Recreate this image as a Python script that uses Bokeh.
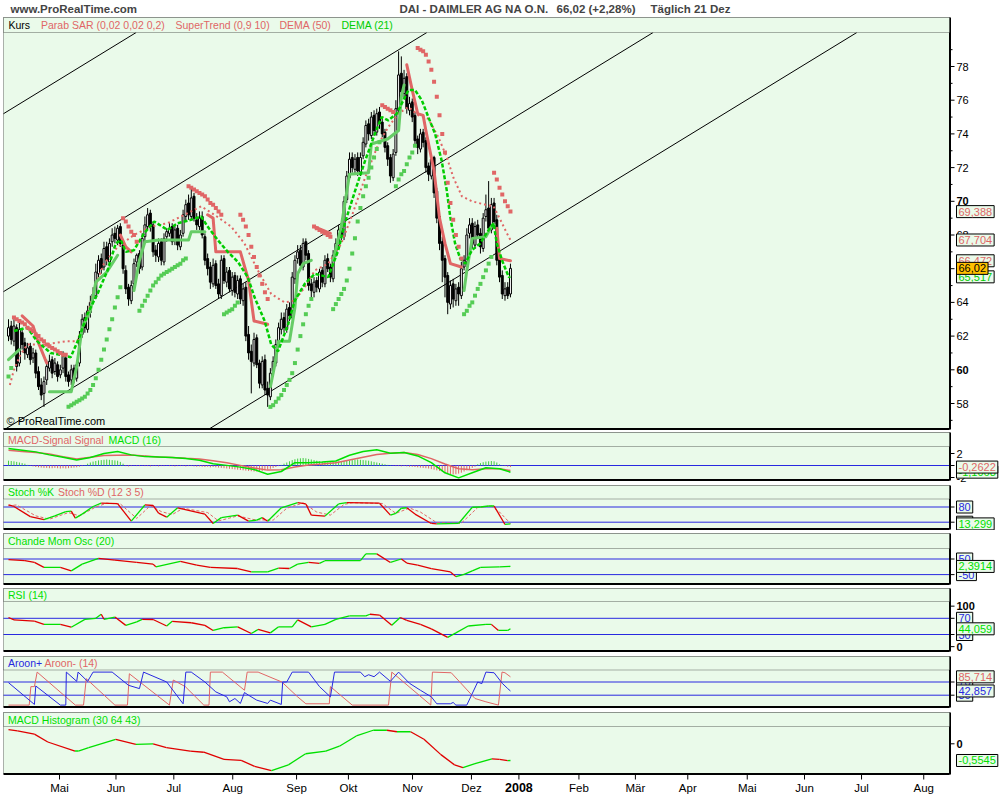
import numpy as np
from bokeh.plotting import figure
from bokeh.layouts import column
from bokeh.models import Range1d, BoxAnnotation, Label
from bokeh.core.properties import value
from bokeh.embed import file_html
from bokeh.resources import INLINE

# ======================= DATA =======================
candle_open = [
    62.0, 62.6, 61.7, 62.5, 60.4, 62.2, 61.6, 60.9, 61.4, 60.7,
    61.0, 59.9, 59.1, 58.6, 59.4, 60.1, 60.6, 59.9, 60.3, 59.7,
    60.1, 60.7, 59.7, 59.4, 60.1, 59.5, 60.4, 62.1, 63.1, 62.4,
    63.4, 64.2, 64.4, 65.7, 66.6, 66.1, 67.3, 66.4, 67.6, 68.1,
    67.7, 68.5, 67.4, 65.9, 64.9, 64.1, 65.1, 66.4, 66.9, 66.1,
    67.9, 68.5, 69.3, 68.6, 67.1, 66.7, 67.6, 66.4, 67.9, 68.1,
    68.5, 67.7, 68.4, 67.3, 68.1, 69.1, 69.9, 69.1, 70.3, 68.9,
    68.5, 69.1, 67.9, 66.6, 66.1, 65.1, 66.3, 65.1, 64.4, 66.6,
    65.2, 65.9, 64.7, 65.6, 64.5, 65.4, 64.1, 64.9, 62.1, 61.1,
    60.4, 61.9, 60.4, 59.1, 60.6, 58.9, 58.4, 59.9, 60.4, 61.6,
    62.4, 63.1, 62.4, 63.7, 63.1, 65.4, 66.6, 67.1, 66.1, 67.6,
    66.9, 65.1, 64.6, 65.3, 64.8, 65.9, 65.1, 66.6, 66.1, 65.4,
    66.9, 67.4, 68.4, 67.9, 70.1, 71.4, 72.6, 71.9, 72.6, 71.7,
    72.7, 73.4, 74.6, 73.9, 75.1, 74.1, 75.3, 74.7, 74.1, 73.3,
    72.6, 71.4, 72.9, 75.4, 77.6, 76.4, 77.4, 75.4, 75.9, 75.1,
    73.7, 73.1, 74.1, 73.6, 72.1, 71.5, 72.6, 70.6, 69.1, 67.6,
    66.6, 65.6, 63.9, 65.1, 64.1, 64.9, 64.4, 66.1, 66.4, 68.1,
    68.7, 67.4, 68.6, 68.1, 67.2, 69.1, 69.6, 68.3, 69.9, 68.9,
    66.6, 65.6, 64.4, 64.9, 64.5]
candle_high = [
    63.0, 62.9, 63.0, 62.7, 62.8, 62.5, 61.9, 61.6, 61.6, 61.3,
    61.2, 60.2, 59.5, 59.6, 60.6, 60.9, 60.8, 60.7, 60.5, 60.3,
    61.1, 60.9, 59.9, 60.3, 60.3, 60.5, 62.3, 63.3, 63.4, 63.8,
    64.4, 64.9, 66.3, 66.8, 66.9, 67.6, 67.6, 67.8, 68.4, 68.5,
    68.6, 68.7, 67.6, 66.2, 65.1, 65.3, 66.6, 66.9, 67.1, 68.1,
    69.1, 69.6, 69.5, 68.8, 67.4, 67.8, 67.8, 68.1, 68.4, 68.7,
    68.7, 68.6, 68.6, 68.3, 69.5, 70.1, 70.4, 70.8, 70.5, 69.3,
    69.4, 69.4, 68.1, 66.9, 66.4, 66.6, 66.5, 65.4, 66.8, 66.8,
    66.1, 66.1, 65.8, 65.8, 65.6, 65.6, 65.1, 65.2, 62.6, 61.5,
    62.2, 62.1, 60.6, 60.8, 60.9, 59.3, 60.1, 60.8, 61.8, 62.8,
    63.4, 63.4, 63.9, 64.0, 65.8, 66.8, 67.4, 67.4, 67.8, 67.8,
    67.1, 65.4, 65.5, 65.5, 66.0, 66.1, 66.8, 66.9, 66.3, 67.1,
    67.8, 68.6, 68.7, 70.3, 71.8, 72.9, 72.9, 72.8, 72.9, 72.9,
    73.8, 74.8, 74.9, 75.3, 75.4, 75.5, 75.6, 74.9, 74.3, 73.5,
    72.8, 73.1, 76.0, 78.9, 78.6, 77.8, 77.6, 76.2, 76.1, 75.3,
    73.9, 74.3, 74.3, 73.8, 72.3, 72.8, 72.7, 70.8, 69.4, 67.9,
    66.8, 65.8, 65.3, 65.4, 65.1, 65.2, 66.4, 66.8, 68.4, 69.0,
    69.0, 68.8, 68.9, 68.4, 69.3, 70.4, 71.2, 70.2, 70.2, 69.2,
    66.8, 65.9, 65.2, 65.2, 66.3]
candle_low = [
    61.7, 61.5, 61.4, 59.9, 60.2, 61.2, 60.6, 60.7, 60.3, 60.4,
    59.5, 58.8, 58.2, 57.8, 59.1, 59.9, 59.5, 59.7, 59.3, 59.5,
    59.8, 59.3, 59.0, 59.1, 59.2, 59.3, 60.2, 61.9, 62.2, 62.2,
    63.1, 63.9, 64.2, 65.5, 65.7, 65.9, 66.2, 66.2, 67.3, 67.5,
    67.4, 67.3, 65.7, 64.5, 63.8, 63.9, 64.9, 66.1, 65.7, 65.9,
    67.5, 68.3, 68.2, 66.7, 66.4, 66.4, 66.2, 66.2, 67.6, 67.9,
    67.4, 67.4, 67.1, 67.1, 67.9, 68.8, 68.9, 68.9, 68.8, 68.3,
    68.3, 67.8, 66.2, 65.6, 64.8, 64.9, 64.8, 64.2, 64.2, 65.1,
    64.9, 64.6, 64.4, 64.3, 64.2, 63.9, 63.8, 61.7, 60.6, 58.6,
    60.2, 60.1, 58.9, 58.9, 58.5, 57.8, 58.2, 59.6, 60.2, 61.3,
    62.1, 62.2, 62.2, 62.9, 63.0, 65.1, 66.3, 65.9, 65.9, 66.5,
    64.7, 64.2, 64.3, 64.6, 64.6, 64.9, 64.9, 65.8, 65.2, 65.2,
    66.7, 67.2, 67.7, 67.7, 69.9, 71.2, 71.7, 71.6, 71.5, 71.5,
    72.5, 73.2, 73.6, 73.7, 73.9, 73.9, 74.3, 73.8, 72.9, 72.1,
    71.1, 71.2, 72.7, 75.2, 76.2, 76.1, 75.2, 75.1, 74.7, 73.3,
    72.8, 72.9, 73.2, 71.7, 71.2, 71.3, 70.2, 68.7, 67.1, 65.2,
    64.3, 63.3, 63.6, 63.7, 63.8, 63.8, 64.2, 65.9, 66.2, 67.8,
    67.2, 67.2, 67.8, 66.9, 67.0, 68.8, 68.2, 68.1, 68.6, 66.2,
    65.2, 64.2, 64.1, 64.2, 64.3]
candle_close = [
    62.5, 61.8, 62.6, 60.2, 62.4, 61.5, 61.0, 61.3, 60.6, 61.0,
    59.8, 59.0, 58.5, 59.3, 60.2, 60.5, 59.8, 60.4, 59.6, 60.0,
    60.8, 59.6, 59.3, 60.0, 59.4, 60.3, 62.0, 63.0, 62.5, 63.5,
    64.0, 64.5, 65.8, 66.5, 66.0, 67.2, 66.5, 67.5, 68.0, 67.8,
    68.4, 67.5, 66.0, 64.8, 64.2, 65.0, 66.3, 66.8, 66.0, 67.8,
    68.6, 69.2, 68.5, 67.0, 66.8, 67.5, 66.5, 67.8, 68.2, 68.4,
    67.6, 68.3, 67.4, 68.0, 69.2, 69.8, 69.2, 70.2, 69.0, 68.6,
    69.0, 68.0, 66.5, 66.0, 65.2, 66.2, 65.0, 64.5, 66.5, 65.3,
    65.8, 64.8, 65.5, 64.6, 65.3, 64.2, 64.8, 62.0, 61.0, 60.5,
    61.8, 60.3, 59.2, 60.5, 58.8, 58.5, 59.8, 60.5, 61.5, 62.5,
    63.0, 62.5, 63.6, 63.2, 65.5, 66.5, 67.0, 66.2, 67.5, 66.8,
    65.0, 64.7, 65.2, 64.9, 65.8, 65.2, 66.5, 66.0, 65.5, 66.8,
    67.5, 68.3, 68.0, 70.0, 71.5, 72.5, 72.0, 72.5, 71.8, 72.6,
    73.5, 74.5, 74.0, 75.0, 74.2, 75.2, 74.6, 74.0, 73.2, 72.5,
    71.5, 72.8, 75.5, 77.5, 76.5, 77.3, 75.5, 75.8, 75.0, 73.6,
    73.2, 74.0, 73.5, 72.0, 71.6, 72.5, 70.5, 69.0, 67.5, 66.5,
    65.5, 64.0, 65.0, 64.2, 64.8, 64.5, 66.0, 66.5, 68.0, 68.6,
    67.5, 68.5, 68.0, 67.3, 69.0, 69.5, 68.4, 69.8, 68.8, 66.5,
    65.5, 64.5, 64.8, 64.4, 66.02]

# Parabolic SAR, one value per candle
sar_values = [
    59.6, 60.1,
    63.1, 63.0, 62.9, 62.8, 62.7, 62.5, 62.4, 62.3, 62.1, 62.0,
    61.8, 61.7, 61.5, 61.4, 61.3, 61.2, 61.1, 61.0, 60.9, 60.9,
    57.8, 57.9, 58.0, 58.1, 58.2, 58.3, 58.4, 58.6, 58.8, 59.1,
    59.5, 60.0, 60.6, 61.2, 61.8, 62.4, 63.0, 63.7, 64.3, 64.9,
    69.0, 68.8, 68.5, 68.2, 68.0, 67.6,
    63.5, 63.8, 64.1, 64.4, 64.7, 65.0, 65.2, 65.4, 65.6, 65.7,
    65.8, 65.9, 66.0, 66.1, 66.2, 66.3, 66.5, 66.6,
    70.9, 70.8, 70.7, 70.6, 70.5, 70.4, 70.3, 70.1, 69.9, 69.8, 69.6, 69.4, 69.2,
    63.3, 63.4, 63.5, 63.6, 63.8, 64.0,
    69.2, 68.9, 68.5, 68.0, 67.3, 66.7, 66.1, 65.6, 65.1, 64.6, 64.2,
    57.8, 57.9, 58.1, 58.3, 58.5, 58.8, 59.1, 59.4, 59.8, 60.4,
    61.2, 62.0, 62.7, 63.3, 63.8, 64.2,
    68.5, 68.4, 68.3, 68.2, 68.1, 68.0, 67.9,
    63.6, 63.9, 64.2, 64.5, 64.8, 65.3, 66.0, 66.9, 67.8, 68.8,
    69.6, 70.3, 70.9, 71.4, 72.0, 72.6, 73.1, 73.5,
    75.7, 75.6, 75.5, 75.4, 75.3,
    70.9, 71.3, 71.6, 71.8, 72.2, 72.6, 72.9, 73.3,
    79.1, 79.0, 78.9, 78.7, 78.3, 77.8, 77.1, 76.2, 75.1, 74.0,
    72.9, 71.1, 69.9, 68.9, 68.0, 67.3, 66.6,
    63.3, 63.5, 63.8, 64.0, 64.4, 64.8, 65.1, 65.5, 65.9, 66.3, 66.7,
    71.7, 71.3, 70.8, 70.4, 70.0, 69.7, 69.388]

# SuperTrend (0,9 10): knots and side (1 = below price / green, -1 = above / red)
st_idx = [0, 4, 5, 9, 11, 14, 15, 23, 25, 27, 30, 32, 36, 40, 41, 43, 45,
          46, 48, 50, 55, 66, 67, 72, 73, 75, 76, 85, 88, 90, 95,
          96, 97.5, 99, 103, 105, 106, 108, 111, 112, 118,
          119, 122, 125, 132, 133, 139, 143, 144, 145,
          146, 148, 150, 152, 153, 156, 158, 160, 162, 166,
          167, 168, 170, 175, 177, 178, 179, 180, 184]
st_val = [60.6, 61.2, 63.2, 62.6, 61.6, 60.4, 58.7, 58.7, 60.2, 62.5, 63.5, 65.2, 65.8, 66.8, 68.0, 67.3, 67.0,
          64.7, 66.5, 67.6, 67.7, 67.7, 68.2, 68.2, 69.2, 69.0, 67.0, 67.0, 65.3, 62.9, 62.7,
          59.0, 60.2, 61.7, 61.7, 63.7, 65.7, 66.3, 66.5, 68.5, 68.1,
          66.5, 68.5, 71.6, 71.7, 73.4, 73.7, 74.2, 76.2, 76.9,
          78.1, 76.6, 75.2, 75.1, 74.2, 71.8, 69.0, 67.5, 66.3, 66.1,
          64.7, 65.9, 67.8, 67.9, 68.5, 68.6, 68.4, 66.6, 66.47]
st_side = [1, 1, -1, -1, -1, -1, 1, 1, 1, 1, 1, 1, 1, 1, -1, -1, -1,
           1, 1, 1, 1, 1, 1, 1, -1, -1, -1, -1, -1, -1, -1,
           1, 1, 1, 1, 1, 1, 1, 1, -1, -1,
           1, 1, 1, 1, 1, 1, 1, 1, 1,
           -1, -1, -1, -1, -1, -1, -1, -1, -1, -1,
           1, 1, 1, 1, 1, 1, -1, -1, -1]

dema50_idx = [0.5, 2, 4.4, 6.9, 13, 21.6, 25.2, 28.9, 31.4, 35, 40, 46, 52.2, 58.3, 65.7, 70.6, 75.5,
              81.6, 86.5, 91.4, 96.3, 101.2, 104.9, 108.6, 112.3, 117.2, 122, 125.8, 130.7, 135.6,
              139.2, 142.9, 146.6, 150.3, 153.9, 157.6, 160.7, 163.1, 166.2, 169.9, 174.8, 177.8,
              180.3, 182.7, 184]
dema50_val = [59.1, 60.0, 60.9, 61.5, 61.5, 61.7, 61.7, 63.2, 64.8, 66.3, 67.3, 68.0, 68.5, 68.7, 69.3, 69.7,
              69.2, 68.5, 67.5, 65.9, 64.5, 64.0, 64.1, 64.9, 65.9, 66.3, 67.5, 69.1, 71.4, 73.4, 74.4,
              75.2, 75.6, 75.1, 74.9, 73.8, 72.6, 71.4, 70.3, 70.0, 69.8, 69.7, 68.9, 68.1, 67.704]

dema21_idx = [2, 6.9, 10.5, 15.4, 20.3, 22.8, 25.9, 28.9, 32.6, 36.3, 39.3, 41.2, 43, 46, 49.7, 53.4,
              58.3, 62, 66.9, 70.6, 73, 76.7, 80.4, 84.1, 87.7, 90.2, 93.9, 96.3, 98.8, 102.5, 104.9,
              108.6, 112.3, 117.2, 120.9, 123.3, 127, 130.7, 134.3, 136.8, 139.2, 142.3, 146.6, 149,
              151.5, 153.9, 156.4, 158.8, 160.7, 161.9, 163.7, 165.6, 167.4, 169.9, 172.9, 176, 177.8,
              179, 180.9, 183.4, 184]
dema21_val = [62.3, 62.5, 61.7, 61.0, 60.85, 60.75, 61.9, 63.3, 64.5, 65.9, 67.5, 67.7, 67.0, 67.1, 68.1,
              68.8, 68.3, 68.7, 68.9, 69.1, 68.5, 67.7, 67.0, 66.4, 65.5, 64.3, 62.9, 61.5, 61.1, 62.7,
              64.1, 65.1, 65.7, 65.5, 67.1, 68.7, 70.6, 72.4, 74.0, 75.0, 74.8, 75.2, 76.6, 76.6, 76.0,
              75.0, 74.0, 72.4, 70.6, 69.1, 67.5, 66.6, 66.3, 67.1, 67.5, 68.3, 68.7, 67.5, 66.5, 65.5,
              65.517]

# trend channel: price = intercept + slope * day index
channel_intercepts = [75.38, 64.82, 56.6, 49.2]
channel_slope = 0.0991

# MACD (16)
macd_idx = [0, 5, 10, 15, 20, 25, 30, 35, 40, 45, 50, 55, 60, 65, 70, 75, 80, 85, 90, 95,
            100, 105, 110, 115, 120, 125, 130, 135, 140, 145, 150, 155, 160, 165, 170, 175, 180, 184]
macd_line = [2.83, 2.55, 2.27, 1.77, 1.37, 0.92, 1.32, 1.99, 2.33, 1.77, 1.48, 1.43, 1.32, 1.15, 0.86,
             0.30, 0.02, -0.27, -0.66, -1.45, -1.00, 0.47, 0.47, 0.58, 0.75, 1.71, 2.33, 2.61, 2.05,
             2.16, 1.60, 0.47, -1.22, -2.07, -1.22, -0.38, -0.55, -1.11]
macd_signal = [2.55, 2.33, 2.16, 1.93, 1.48, 1.09, 1.37, 1.65, 1.71, 1.77, 1.60, 1.43, 1.32, 1.20, 1.09,
               0.80, 0.47, 0.02, -0.43, -0.77, -0.71, -0.26, 0.07, 0.24, 0.47, 0.92, 1.37, 1.82, 2.05,
               2.16, 1.82, 1.15, 0.24, -0.55, -0.71, -0.55, -0.55, -0.83]
macd_hist = [
    0.8, 0.75, 0.7, 0.6, 0.5, 0.4, 0.3,
    0.1, -0.05, -0.15, -0.25, -0.3, -0.35, -0.4, -0.4, -0.45, -0.45, -0.4, -0.45, -0.5, -0.45,
    -0.5, -0.45, -0.4, -0.35, -0.3, -0.2, -0.1, 0.05,
    0.3, 0.5, 0.65, 0.75, 0.85, 0.9, 0.95, 1.0, 0.95, 0.9, 0.85, 0.8, 0.6, 0.3,
    -0.1, -0.15, -0.1, -0.05, -0.1, -0.1, -0.05, -0.1, -0.1, -0.15, -0.1, -0.1, -0.15, -0.1,
    -0.1, -0.05, -0.1, -0.1, -0.15, -0.1, -0.1, -0.1, -0.15, -0.1, -0.1, -0.15, -0.2, -0.15,
    -0.2, -0.25, -0.2, -0.3, -0.25, -0.3,
    -0.35, -0.4, -0.45, -0.5, -0.55, -0.6, -0.65, -0.7, -0.75, -0.8, -0.85, -0.9, -0.95, -1.0,
    -1.0, -0.95, -0.9, -0.8, -0.7, -0.55, -0.4, -0.25, -0.1,
    0.1, 0.3, 0.5, 0.7, 0.9, 1.05, 1.15, 1.2, 1.25, 1.2, 1.1, 1.0, 0.9, 0.8, 0.7, 0.6, 0.55,
    0.5, 0.5, 0.55, 0.6, 0.65,
    0.7, 0.75, 0.8, 0.85, 0.9, 0.95, 1.0, 0.95, 0.9, 0.85, 0.8, 0.7, 0.6, 0.5, 0.4, 0.3, 0.2,
    0.1, 0.05,
    -0.05, -0.1, -0.1, -0.15, -0.1, -0.15, -0.2, -0.2, -0.25, -0.3, -0.35, -0.4, -0.45, -0.5,
    -0.6, -0.7,
    -0.8, -0.9, -1.0, -1.15, -1.3, -1.45, -1.5, -1.45, -1.35, -1.2, -1.0, -0.8, -0.6, -0.4, -0.2,
    0.2, 0.4, 0.55, 0.65, 0.7, 0.75, 0.7, 0.5,
    0.2, 0.05, -0.1, -0.2, -0.2622]

# Stochastic %K / %D (12 3 5)
stoch_k_idx = [0, 2, 8, 13, 17, 21, 23, 24.5, 27, 31, 34, 40, 45, 50, 53, 55, 58, 62, 64, 72, 75, 78,
               84, 88, 91, 93, 95, 100, 106, 109, 111, 116, 121, 124, 136, 140, 142, 144, 146, 149,
               155, 157, 165, 170, 173, 176, 178, 182, 184]
stoch_k_val = [88, 82, 42, 30, 45, 62, 64, 36, 52, 82, 95, 93, 24, 88, 86, 56, 40, 77, 72, 52, 15, 38,
               48, 24, 28, 38, 24, 77, 97, 92, 48, 44, 92, 97, 95, 48, 55, 75, 77, 52, 15, 13, 15, 79,
               80, 84, 84, 11, 13.299]
stoch_d_idx = [0, 3, 10, 15, 22, 26, 32, 36, 41, 47, 52, 56, 60, 64, 73, 77, 84, 90, 97, 102, 108,
               113, 118, 123, 126, 137, 142, 147, 151, 157, 166, 172, 177, 180, 184]
stoch_d_val = [85, 88, 45, 32, 58, 45, 80, 95, 92, 35, 85, 62, 50, 75, 58, 25, 45, 30, 28, 75, 96, 60,
               48, 90, 97, 94, 55, 76, 60, 18, 16, 78, 84, 60, 15]

# Chande Momentum Oscillator (20)
chande_idx = [0, 6, 9.5, 13, 19, 23, 27, 33, 39, 47, 53, 54, 63, 69, 74, 84, 89, 95, 99, 103, 106,
              110, 114, 116, 129, 131, 135, 140, 144, 146, 150, 155, 162, 164, 167, 170, 173, 180, 184]
chande_val = [46, 39, 28, -4, -4, -26, 17, 54, 43, 28, 17, 0, 35, 11, -4, -11, -33, -33, -9, -11, 17,
              28, 22, 39, 39, 83, 83, 28, 50, 24, 11, -11, -33, -63, -48, -26, -4, 0, 2.3914]

# RSI (14)
rsi_idx = [0, 2, 9.5, 13, 19, 23, 28, 32, 34, 35, 39, 43, 47, 49, 53, 58, 60, 67, 72, 75, 79, 84, 89,
           91.5, 96, 99, 104, 106, 111, 116, 120, 125, 131, 132.5, 136, 140.5, 143.6, 146, 151, 155,
           161, 164, 168.5, 175, 177, 179.6, 183, 184]
rsi_val = [72, 66, 63, 55, 55, 48, 67.5, 70, 80, 67.5, 73, 52.5, 61, 67.5, 67, 51, 62.5, 59, 52.5, 40,
           46.7, 49, 32.5, 42.5, 34, 49, 49, 66, 49, 55, 67.5, 76, 76, 80, 78, 53, 72, 65, 55, 44,
           23, 34, 51, 55, 55, 40, 40, 44.059]

# Aroon+ / Aroon- (14)
aroon_up_idx = [0, 9.5, 10, 19, 21, 21.2, 25, 25.5, 29, 31, 38, 44, 48, 49.5, 58, 64, 65, 67, 72, 76,
                80, 81, 83, 85, 86.5, 88, 91, 95, 96, 100, 100.5, 102, 104, 110, 114, 118, 119.5, 129,
                130.6, 132, 134, 136, 140, 143, 147, 151, 155, 157, 162, 163, 164, 168, 172, 173.5,
                175, 178, 181, 183, 184]
aroon_up_val = [68, 2, 58, 0, 0, 100, 72, 100, 72, 100, 100, 60, 50, 100, 70, 4, 100, 100, 70, 40,
                25, 10, 20, 5, 38, 30, 15, 5, 15, 2, 70, 70, 100, 100, 56, 25, 100, 100, 86, 92, 86,
                100, 72, 100, 66, 45, 25, 4, 4, 8, 0, 0, 70, 65, 100, 98, 66, 50, 42.857]
aroon_dn_idx = [0, 7.6, 8.2, 9.5, 10.5, 24.5, 27.5, 28.5, 39, 43.6, 44.3, 59, 60.4, 64.8, 71.6, 73.5,
                74, 78.4, 86.5, 87.5, 91.5, 100.2, 106, 109, 117.6, 118, 126, 139.3, 140.5, 154.8,
                155.4, 162.3, 171, 175, 179.6, 180.9, 182, 184]
aroon_dn_val = [0, 0, 56, 56, 100, 0, 0, 80, 0, 0, 95, 0, 76, 56, 0, 0, 100, 100, 45, 100, 100, 70,
                25, 4, 4, 56, 0, 0, 100, 0, 100, 98, 20, 10, 0, 100, 98, 85.714]

# MACD Histogram (30 64 43)
macdh_idx = [0, 3.3, 9.5, 14.4, 24.4, 25.6, 29.4, 39.3, 46.7, 53, 57.9, 66.6, 71.6, 79, 85.3, 90.2,
             96.4, 102.6, 108.9, 116.3, 121.3, 127.5, 133.7, 138.7, 142.4, 147.4, 152.3, 158.5,
             163.5, 166.6, 171, 177.2, 180, 183, 184]
macdh_val = [0.47, 0.43, 0.32, 0.06, -0.24, -0.24, -0.13, 0.15, -0.02, 0.0, -0.13, -0.24, -0.28,
             -0.52, -0.55, -0.75, -0.89, -0.70, -0.33, -0.24, -0.08, 0.26, 0.45, 0.45, 0.40, 0.40,
             0.15, -0.36, -0.70, -0.79, -0.66, -0.50, -0.52, -0.56, -0.5545]

# time axis (trading-day index of each month start)
month_ticks = [18.7, 39.4, 60.6, 82.2, 105.6, 124.6, 148.1, 169.7, 187.1, 209.1, 229.8, 249.0,
               270.8, 291.8, 312.7, 335.5]
month_labels = ["Mai", "Jun", "Jul", "Aug", "Sep", "Okt", "Nov", "Dez", "2008", "Feb", "Mär", "Apr",
                "Mai", "Jun", "Jul", "Aug"]

price_ticks = [58, 60, 62, 64, 66, 68, 70, 72, 74, 76, 78]
price_minor = [57, 59, 61, 63, 65, 67, 69, 71, 73, 75, 77, 79]

# ======================= STYLE / LAYOUT =======================
BG = "#EAFAEA"
RED = "#E06666"
SARGREEN = "#55CC55"
STGREEN = "#66CC66"
DGREEN = "#00CC00"
IGREEN = "#00E000"
IRED = "#E00000"
BLUE = "#2828E0"
ORANGE = "#FFC000"
FONT = "Liberation Sans"

PX_DAY = 2.728          # pixels per trading day
FIRST_PX = 8.0          # pixel of the first candle
FRAME_L, FRAME_R = 3, 949


def ix(px):
    return (px - FIRST_PX) / PX_DAY


XR = Range1d(ix(0), ix(1000))
XL, XRT = ix(FRAME_L), ix(FRAME_R)
DX = 1.0 / PX_DAY
days = np.arange(len(candle_close))


def make_panel(ctop, ftop, fbot, cbot, ref_val, ref_px, ppu):
    def yv(py):
        return ref_val + (ref_px - py) / ppu
    p = figure(title=None, width=1000, height=cbot - ctop, x_range=XR,
               y_range=Range1d(yv(cbot), yv(ctop)), min_border=0,
               x_axis_location=None, y_axis_location=None,
               toolbar_location=None, output_backend="svg",
               background_fill_color="white", border_fill_color="white", outline_line_color=None)
    p.xgrid.visible = False
    p.ygrid.visible = False
    p.add_layout(BoxAnnotation(left=XL, right=XRT, bottom=yv(fbot), top=yv(ftop), fill_color=BG,
                               fill_alpha=1.0, line_color=None, level="underlay"))
    p._ftop, p._fbot = ftop, fbot
    return p, yv


def texts(p, xs, ys, labels, color="black", size="11px", bold=False, align="left", font=FONT):
    p.text(x=xs, y=ys, text=labels, text_color=color, text_font=value(font),
           text_font_size=value(size), text_font_style=value("bold" if bold else "normal"),
           text_align=value(align), text_baseline=value("middle"))


def frame_and_axis(p, yv, ticks, minor=None, bold=False, bold_ticks=()):
    ftop, fbot = p._ftop, p._fbot
    p.add_layout(BoxAnnotation(left=XL, right=XRT, bottom=yv(fbot), top=yv(ftop), fill_alpha=0,
                               line_color="black", line_width=1))
    p.segment([XL], [yv(fbot + 0.5)], [XRT], [yv(fbot + 0.5)], line_color="black", line_width=2)
    p.segment([XRT + 0.5 * DX], [yv(fbot + 1)], [XRT + 0.5 * DX], [yv(ftop)], line_color="black",
              line_width=2)
    n = len(ticks)
    p.segment([XRT] * n, ticks, [XRT + 5 * DX] * n, ticks, line_color="black", line_width=1)
    if minor:
        m = len(minor)
        p.segment([XRT] * m, minor, [XRT + 3 * DX] * m, minor, line_color="black", line_width=1)
    norm = [t for t in ticks if t not in bold_ticks]
    bld = [t for t in ticks if t in bold_ticks]
    if norm:
        texts(p, [XRT + 7 * DX] * len(norm), norm, [str(t) for t in norm], bold=bold)
    if bld:
        texts(p, [XRT + 7 * DX] * len(bld), bld, [str(t) for t in bld], bold=True)


def band(p, yv, bottom_px, center_px, pieces, size="10.5px"):
    p.add_layout(BoxAnnotation(left=XL, right=XRT, bottom=yv(bottom_px), top=yv(p._ftop),
                               fill_color=BG, fill_alpha=1.0, line_color="black", line_width=1))
    for px, txt, col in pieces:
        p.add_layout(Label(x=ix(px), y=yv(center_px), text=txt, text_color=col, text_font=FONT,
                           text_font_size=size, text_baseline="middle", text_align="left"))


def vbox(p, y, txt, col, bg=BG):
    p.add_layout(Label(x=XRT, y=y, x_offset=7, text=txt, text_color=col, text_font=FONT,
                       text_font_size="11px", text_baseline="middle", text_align="left",
                       background_fill_color=bg, background_fill_alpha=1.0,
                       border_line_color="black", border_line_width=1, padding=2))


def hlines(p, vals):
    n = len(vals)
    p.segment([XL] * n, vals, [XRT] * n, vals, line_color=BLUE, line_width=1)


def dir_line(p, xs, ys, width=1.3):
    xs = np.asarray(xs, dtype=float)
    ys = np.asarray(ys, dtype=float)
    cols = [IGREEN if b >= a else IRED for a, b in zip(ys[:-1], ys[1:])]
    p.segment(xs[:-1], ys[:-1], xs[1:], ys[1:], line_color=cols, line_width=width)


panels = []

# ---------------- main price panel ----------------
p1, y1 = make_panel(0, 17, 428, 430, 78.0, 66.0, 16.85)
ybot, ytop = y1(428), y1(32)
cx0, cy0, cx1, cy1 = [], [], [], []
for a in channel_intercepts:
    xa_, xb_ = XL, XRT
    if a + channel_slope * xa_ < ybot:
        xa_ = (ybot - a) / channel_slope
    if a + channel_slope * xb_ > ytop:
        xb_ = (ytop - a) / channel_slope
    cx0.append(xa_); cy0.append(a + channel_slope * xa_)
    cx1.append(xb_); cy1.append(a + channel_slope * xb_)
p1.segment(cx0, cy0, cx1, cy1, line_color="black", line_width=1)

o = np.array(candle_open)
c = np.array(candle_close)
h = np.array(candle_high)
lo = np.array(candle_low)
p1.segment(days, h, days, lo, line_color="black", line_width=1)
p1.vbar(x=days, width=0.72, top=np.maximum(o, c), bottom=np.minimum(o, c),
        fill_color=["white" if cc >= oo else "black" for oo, cc in zip(o, c)],
        line_color="black", line_width=1)

p1.line(dema50_idx, dema50_val, line_color=RED, line_width=2, line_dash="2 3")

runs_x, runs_y, runs_c = [], [], []
cur_x, cur_y = [st_idx[0]], [st_val[0]]
for i in range(1, len(st_idx)):
    if st_side[i] == st_side[i - 1]:
        cur_x.append(st_idx[i])
        cur_y.append(st_val[i])
    else:
        runs_x.append(cur_x)
        runs_y.append(cur_y)
        runs_c.append(STGREEN if st_side[i - 1] > 0 else RED)
        cur_x, cur_y = [st_idx[i]], [st_val[i]]
runs_x.append(cur_x)
runs_y.append(cur_y)
runs_c.append(STGREEN if st_side[-1] > 0 else RED)
p1.multi_line(runs_x, runs_y, line_color=runs_c, line_width=3, line_join="round", line_cap="round")

p1.line(dema21_idx, dema21_val, line_color=DGREEN, line_width=2.5, line_dash="4 2")

sar_cols = [RED if s > cc else SARGREEN for s, cc in zip(sar_values, candle_close)]
p1.scatter(days, sar_values, marker="square", size=4, fill_color=sar_cols, line_color=None)

frame_and_axis(p1, y1, price_ticks, price_minor, bold_ticks=(60, 70))
band(p1, y1, 32, 24.5, [(8, "Kurs", "black"),
                        (40.5, "Parab SAR (0,02 0,02 0,2)", RED),
                        (175, "SuperTrend (0,9 10)", RED),
                        (279, "DEMA (50)", RED),
                        (341, "DEMA (21)", DGREEN)])
p1.add_layout(Label(x=ix(6), y=y1(420), text="\u00a9 ProRealTime.com", text_color="black",
                    text_font=FONT, text_font_size="11px", text_baseline="middle", text_align="left"))
for px, txt in [(10, "www.ProRealTime.com"), (399, "DAI - DAIMLER AG NA O.N."),
                (556, "66,02 (+2,28%)"), (650, "T\u00e4glich  21 Dez")]:
    p1.add_layout(Label(x=ix(px), y=y1(8.5), text=txt, text_font=FONT, text_font_style="bold",
                        text_font_size="11.5px", text_baseline="middle", text_align="left"))

vbox(p1, sar_values[-1], "69,388", RED)
vbox(p1, dema50_val[-1], "67,704", RED)
vbox(p1, st_val[-1], "66,472", RED)
vbox(p1, dema21_val[-1], "65,517", DGREEN)
vbox(p1, candle_close[-1], "66,02", "black", bg=ORANGE)
panels.append(p1)

# ---------------- MACD (16) ----------------
p2, y2 = make_panel(430, 432, 479, 482, 0.0, 465.0, 6.0)
hlines(p2, [0])
p2.segment(days, 0, days, macd_hist, line_width=1,
           line_color=["#44CC44" if v >= 0 else RED for v in macd_hist])
p2.line(macd_idx, macd_signal, line_color=RED, line_width=1.5)
p2.line(macd_idx, macd_line, line_color=IGREEN, line_width=1.5)
frame_and_axis(p2, y2, [2, 0, -2])
band(p2, y2, 446, 439, [(7.5, "MACD-Signal Signal", RED), (108, "MACD (16)", IGREEN)])
vbox(p2, macd_line[-1], "-1,1068", IGREEN)
vbox(p2, macd_hist[-1], "-0,2622", RED)
panels.append(p2)

# ---------------- Stochastic ----------------
p3, y3 = make_panel(482, 485, 528, 530, 80.0, 506.5, 0.2533)
hlines(p3, [80, 20])
p3.line(stoch_d_idx, stoch_d_val, line_color=RED, line_width=1, line_dash="3 2")
dir_line(p3, stoch_k_idx, stoch_k_val)
frame_and_axis(p3, y3, [80, 20], bold=True)
band(p3, y3, 498.5, 491.5, [(7.5, "Stoch %K", IGREEN), (57.5, "Stoch %D (12 3 5)", RED)])
vbox(p3, 80, "80", BLUE)
vbox(p3, 20, "20", BLUE)
vbox(p3, stoch_k_val[-1], "13,299", IGREEN)
panels.append(p3)

# ---------------- Chande ----------------
p4, y4 = make_panel(530, 533, 583, 585, 50.0, 558.5, 0.156)
hlines(p4, [50, -50])
dir_line(p4, chande_idx, chande_val)
frame_and_axis(p4, y4, [50, -50], bold=True)
band(p4, y4, 548, 540.5, [(7.5, "Chande Mom Osc (20)", IGREEN)])
vbox(p4, 50, "50", BLUE)
vbox(p4, -50, "-50", BLUE)
vbox(p4, chande_val[-1], "2,3914", IGREEN)
panels.append(p4)

# ---------------- RSI ----------------
p5, y5 = make_panel(585, 588, 650, 653, 70.0, 617.8, 0.405)
hlines(p5, [70, 30])
dir_line(p5, rsi_idx, rsi_val)
frame_and_axis(p5, y5, [100, 70, 30, 0], bold=True)
band(p5, y5, 601, 594.5, [(7.5, "RSI (14)", IGREEN)])
vbox(p5, 70, "70", BLUE)
vbox(p5, 30, "30", BLUE)
vbox(p5, rsi_val[-1], "44,059", IGREEN)
panels.append(p5)

# ---------------- Aroon ----------------
p6, y6 = make_panel(653, 656, 706, 709, 70.0, 681.5, 0.33)
hlines(p6, [70, 30])
p6.line(aroon_dn_idx, aroon_dn_val, line_color=RED, line_width=1)
p6.line(aroon_up_idx, aroon_up_val, line_color=BLUE, line_width=1)
frame_and_axis(p6, y6, [70, 30], bold=True)
band(p6, y6, 669.5, 662.5, [(7.5, "Aroon+", BLUE), (44, "Aroon- (14)", RED)])
vbox(p6, 30, "30", BLUE)
vbox(p6, 70, "70", BLUE)
vbox(p6, aroon_dn_val[-1], "85,714", RED)
vbox(p6, aroon_up_val[-1], "42,857", BLUE)
panels.append(p6)

# ---------------- MACD Histogram (30 64 43) ----------------
p7, y7 = make_panel(709, 712, 773, 800, 0.0, 743.3, 30.1)
dir_line(p7, macdh_idx, macdh_val)
frame_and_axis(p7, y7, [0], bold=True)
band(p7, y7, 726, 719, [(7.5, "MACD Histogram (30 64 43)", IGREEN)])
vbox(p7, macdh_val[-1], "-0,5545", IGREEN)
nt = len(month_ticks)
p7.segment(month_ticks, [y7(774)] * nt, month_ticks, [y7(779)] * nt, line_color="black", line_width=1)
norm_t = [t for t, lab in zip(month_ticks, month_labels) if lab != "2008"]
norm_l = [lab for lab in month_labels if lab != "2008"]
texts(p7, norm_t, [y7(787)] * len(norm_t), norm_l, align="center", size="11.5px")
bold_t = [t for t, lab in zip(month_ticks, month_labels) if lab == "2008"]
texts(p7, bold_t, [y7(787)] * len(bold_t), ["2008"] * len(bold_t), align="center", size="12.5px",
      bold=True)
panels.append(p7)

root = column(*panels, spacing=0)
open("out.html", "w").write(file_html(root, INLINE))
